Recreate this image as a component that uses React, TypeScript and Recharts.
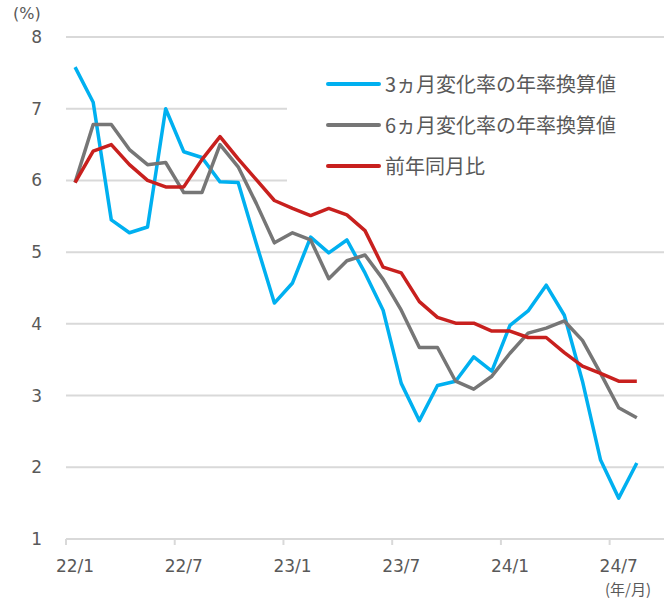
import React from 'react'
import { LineChart, Line, XAxis, YAxis, CartesianGrid, Legend } from 'recharts'

// 22/1 .. 24/9 (last month has no data yet)
const months = [
  '22/1', '22/2', '22/3', '22/4', '22/5', '22/6', '22/7', '22/8', '22/9', '22/10', '22/11', '22/12',
  '23/1', '23/2', '23/3', '23/4', '23/5', '23/6', '23/7', '23/8', '23/9', '23/10', '23/11', '23/12',
  '24/1', '24/2', '24/3', '24/4', '24/5', '24/6', '24/7', '24/8', '24/9',
]

const ann3m = [
  7.58, 7.09, 5.45, 5.27, 5.35, 7.0, 6.4, 6.32, 5.98, 5.97, 5.12, 4.29,
  4.57, 5.21, 4.99, 5.17, 4.71, 4.19, 3.17, 2.65, 3.14, 3.2, 3.54, 3.34,
  3.98, 4.18, 4.54, 4.12, 3.2, 2.1, 1.57, 2.06, null,
]

const ann6m = [
  5.97, 6.78, 6.78, 6.43, 6.22, 6.25, 5.83, 5.83, 6.5, 6.19, 5.68, 5.13,
  5.27, 5.17, 4.63, 4.88, 4.96, 4.62, 4.19, 3.67, 3.67, 3.2, 3.09, 3.27,
  3.59, 3.87, 3.94, 4.04, 3.77, 3.31, 2.83, 2.69, null,
]

const yoy = [
  5.97, 6.41, 6.5, 6.22, 6.0, 5.91, 5.91, 6.29, 6.61, 6.3, 6.01, 5.72,
  5.61, 5.51, 5.61, 5.52, 5.3, 4.79, 4.71, 4.31, 4.09, 4.01, 4.01, 3.9,
  3.9, 3.81, 3.81, 3.6, 3.41, 3.31, 3.2, 3.2, null,
]

const yTicks = [1, 2, 3, 4, 5, 6, 7, 8]

const seriesNames = ['3ヵ月変化率の年率換算値', '6ヵ月変化率の年率換算値', '前年同月比']
const colors = ['#00B0F0', '#767676', '#C8201E']

const data = months.map((m, i) => ({ month: m, a: ann3m[i], b: ann6m[i], c: yoy[i] }))

const W = 672
const H = 600
const plotLeft = 66
const plotRight = 8
const band = (W - plotLeft - plotRight) / months.length

const numFont = '"DejaVu Sans", "Noto Sans CJK JP", sans-serif'
const jpFont = '"Noto Sans CJK JP", sans-serif'
const textColor = '#595959'

function MonthTick(props: any) {
  const { x, y, payload } = props
  const bx = x - band / 2
  return (
    <g>
      <line x1={bx} x2={bx} y1={y} y2={y + 6} stroke="#D9D9D9" strokeWidth={2} />
      <text x={x} y={y + 33} textAnchor="middle" fill={textColor} fontSize={17} fontFamily={numFont}>
        {payload.value}
      </text>
    </g>
  )
}

function LegendBox(props: any) {
  const { payload } = props
  return (
    <div style={{ paddingTop: 3 }}>
      {payload.map((entry: any, i: number) => (
        <div key={`leg-${i}`} style={{ display: 'flex', alignItems: 'center', height: 41 }}>
          <span style={{ display: 'inline-block', width: 55, height: 4, background: entry.color, marginLeft: 39, marginRight: 4, borderRadius: 2 }} />
          <span style={{ fontFamily: jpFont, fontSize: 20, color: textColor, whiteSpace: 'nowrap' }}>{entry.value}</span>
        </div>
      ))}
    </div>
  )
}

export default function App() {
  return (
    <div style={{ position: 'absolute', left: 0, top: 0, width: W, height: H, background: '#fff' }}>
      <LineChart width={W} height={H} data={data} margin={{ top: 37, right: plotRight, bottom: 0, left: 0 }}>
        <CartesianGrid vertical={false} stroke="#D9D9D9" strokeWidth={2} />
        <XAxis
          dataKey="month"
          scale="band"
          height={61}
          interval={5}
          tickSize={0}
          tickMargin={0}
          tickLine={false}
          axisLine={{ stroke: '#D9D9D9', strokeWidth: 2 }}
          tick={<MonthTick />}
        />
        <YAxis
          width={plotLeft}
          domain={[1, 8]}
          ticks={yTicks}
          interval={0}
          tickLine={false}
          axisLine={false}
          tickSize={0}
          tickMargin={24}
          tick={{ fill: textColor, fontSize: 17, fontFamily: numFont }}
        />
        <Legend
          layout="horizontal"
          verticalAlign="middle"
          align="center"
          content={<LegendBox />}
          wrapperStyle={{ left: 287, top: 60, width: 377, height: 135, background: '#fff' }}
        />
        <Line dataKey="a" name={seriesNames[0]} stroke={colors[0]} strokeWidth={3.5} dot={false} strokeLinejoin="round" isAnimationActive={false} />
        <Line dataKey="b" name={seriesNames[1]} stroke={colors[1]} strokeWidth={3.5} dot={false} strokeLinejoin="round" isAnimationActive={false} />
        <Line dataKey="c" name={seriesNames[2]} stroke={colors[2]} strokeWidth={3.5} dot={false} strokeLinejoin="round" isAnimationActive={false} />
      </LineChart>
      <div style={{ position: 'absolute', left: 13, top: 4, fontFamily: numFont, fontSize: 16, color: textColor }}>(%)</div>
      <div style={{ position: 'absolute', left: 605, top: 581, fontFamily: jpFont, fontSize: 15, lineHeight: '15px', color: textColor }}>(年/月)</div>
    </div>
  )
}
